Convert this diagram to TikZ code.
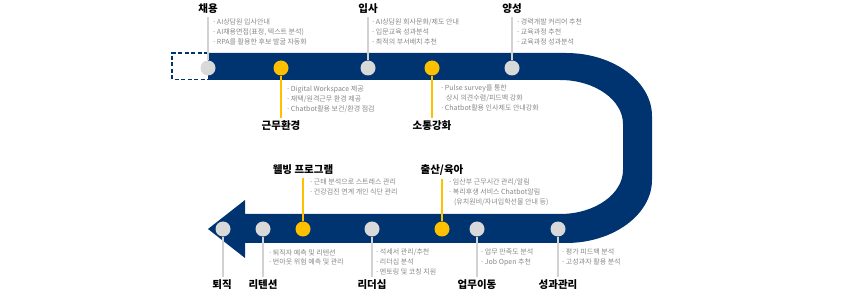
\documentclass[tikz,border=0pt]{standalone}
\usepackage{fontspec}
\setmainfont{Noto Sans CJK KR}
\newfontfamily\dotfont{DejaVu Sans}
\definecolor{navy}{RGB}{0,52,112}
\definecolor{dotgray}{RGB}{217,217,217}
\definecolor{linegray}{RGB}{210,210,210}
\definecolor{dotyellow}{RGB}{255,192,0}
\definecolor{txtgray}{RGB}{135,135,135}
\newcommand{\bl}{{\dotfont ·}\ }
\tikzset{
  gdot/.style={circle, fill=dotgray, minimum size=15pt, inner sep=0pt},
  ydot/.style={circle, fill=dotyellow, minimum size=15pt, inner sep=0pt},
  ttl/.style={font=\fontsize{10.5}{12}\selectfont\bfseries, text=black, inner sep=3pt},
  bul/.style={font=\fontsize{7}{9.6}\selectfont, text=txtgray, align=left, anchor=north west, inner sep=0pt},
  gline/.style={draw=linegray, line width=1.4pt},
  yline/.style={draw=dotyellow, line width=1.4pt},
  band/.style={fill=navy, draw=none},
  dashbox/.style={draw=navy, line width=1.3pt, dash pattern=on 4pt off 2.5pt}
}
\begin{document}
\begin{tikzpicture}[x=1pt,y=-1pt]
\useasboundingbox (0,0) rectangle (844,299);
% band
\path[band] (208,53) -- (566,53)
  .. controls (614,53) and (652,82) .. (652,116)
  -- (652,180)
  .. controls (652,214) and (614,243) .. (566,243)
  -- (245,243) -- (245,258) -- (208,229) -- (245,200) -- (245,214)
  -- (560,214)
  .. controls (595,214) and (623,194) .. (623,170)
  -- (623,124)
  .. controls (623,100) and (595,80) .. (560,80)
  -- (208,80) -- cycle;
\draw[dashbox] (208,53) -- (172,53) -- (172,79.5) -- (208,79.5);

% top circles
\node[gdot] (c1) at (208,68) {};
\node[ydot] (y1) at (281,68) {};
\node[gdot] (c2) at (368,68) {};
\node[ydot] (y2) at (432,68) {};
\node[gdot] (c3) at (512,68) {};
% bottom circles
\node[gdot] (d1) at (223,229) {};
\node[gdot] (d2) at (263,229) {};
\node[ydot] (y3) at (303,229) {};
\node[gdot] (d3) at (372,229) {};
\node[ydot] (y4) at (442,229) {};
\node[gdot] (d4) at (477,229) {};
\node[gdot] (d5) at (558,229) {};

% titles
\node[ttl] (t1) at (208,9) {채용};
\node[ttl] (t2) at (368,9) {입사};
\node[ttl] (t3) at (512,9) {양성};
\node[ttl] (t4) at (281,126) {근무환경};
\node[ttl] (t5) at (432,126) {소통강화};
\node[ttl] (t6) at (303,170) {웰빙 프로그램};
\node[ttl] (t7) at (442,170) {출산/육아};
\node[ttl] (b1) at (222,285) {퇴직};
\node[ttl] (b2) at (263,285) {리텐션};
\node[ttl] (b3) at (372,285) {리더십};
\node[ttl] (b4) at (477,285) {업무이동};
\node[ttl] (b5) at (558,285) {성과관리};

% leaders
\draw[gline] (t1.south) -- (c1);
\draw[gline] (t2.south) -- (c2);
\draw[gline] (t3.south) -- (c3);
\draw[yline] (y1) -- (t4.north);
\draw[yline] (y2) -- (t5.north);
\draw[yline] (t6.south -| y3) -- (y3);
\draw[yline] (t7.south) -- (y4);
\draw[gline] (d1) -- (b1.north -| d1);
\draw[gline] (d2) -- (b2.north);
\draw[gline] (d3) -- (b3.north);
\draw[gline] (d4) -- (b4.north);
\draw[gline] (d5) -- (b5.north);

% bullet texts
\node[bul] (x1) at (213,19) {\bl AI상담원 입사안내\\\bl AI채용면접(표정, 텍스트 분석)\\\bl RPA를 활용한 후보 발굴 자동화};
\node[bul] (x2) at (372,19) {\bl AI상담원 회사문화/제도 안내\\\bl 입문교육 성과분석\\\bl 최적의 부서배치 추천};
\node[bul] (x3) at (517,19) {\bl 경력개발 커리어 추천\\\bl 교육과정 추천\\\bl 교육과정 성과분석};
\node[bul] (x4) at (287,86) {\bl Digital Workspace 제공\\\bl 재택/원격근무 환경 제공\\\bl Chatbot활용 보건/환경 점검};
\node[bul] (x5) at (441,85) {\bl Pulse survey를 통한\\\hspace*{0.7em}상시 의견수렴/피드백 강화\\\bl Chatbot활용 인사제도 안내강화};
\node[bul] (x6) at (310,179) {\bl 근태 분석으로 스트레스 관리\\\bl 건강검진 연계 개인 식단 관리};
\node[bul] (x7) at (449,179) {\bl 임산부 근무시간 관리/알림\\\bl 복리후생 서비스 Chatbot알림\\\hspace*{0.7em}(유치원비/자녀입학선물 안내 등)};
\node[bul] (x8) at (269,249) {\bl 퇴직자 예측 및 리텐션\\\bl 번아웃 위험 예측 및 관리};
\node[bul] (x9) at (376,249) {\bl 석세서 관리/추천\\\bl 리더십 분석\\\bl 멘토링 및 코칭 지원};
\node[bul] (x10) at (481,249) {\bl 업무 만족도 분석\\\bl Job Open 추천};
\node[bul] (x11) at (562,249) {\bl 평가 피드백 분석\\\bl 고성과자 활용 분석};
\end{tikzpicture}
\end{document}
